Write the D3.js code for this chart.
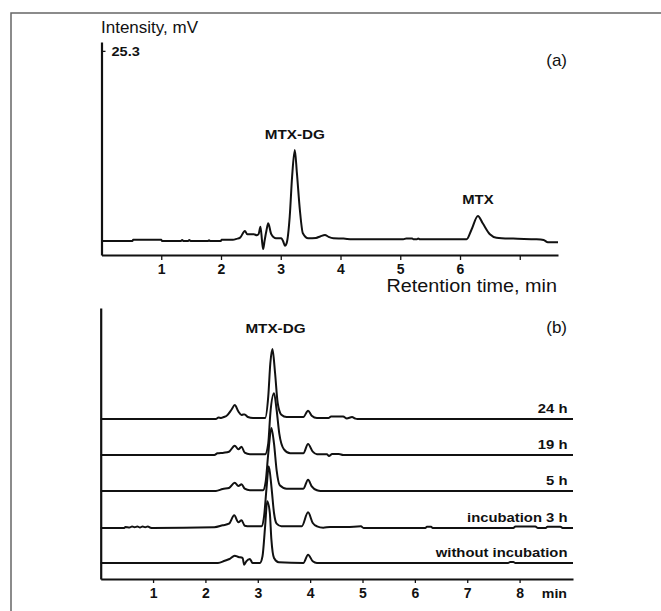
<!DOCTYPE html>
<html><head><meta charset="utf-8">
<script src="https://cdn.jsdelivr.net/npm/d3@7"></script>
<style>
body{margin:0;background:#fff;}
text{font-family:"Liberation Sans",Arial,sans-serif;fill:#111;}
</style></head>
<body><svg id="c" width="661" height="611"></svg>
<script>
// ---------- DATA ----------
// Panel (a): chromatogram, [retention time (min), intensity (mV)]
const traceA = [
 [0,1.74],[0.52,1.74],[0.53,1.9],[1.0,1.9],[1.01,1.74],[1.33,1.74],[1.35,1.85],[1.37,1.74],[1.45,1.74],[1.47,1.85],[1.49,1.74],
 [1.78,1.74],[1.8,1.82],[1.82,1.74],[2.0,1.74],[2.01,1.9],[2.2,1.9],[2.26,2.0],[2.32,2.15],[2.4,2.98],[2.44,2.57],
 [2.55,2.57],[2.6,2.45],[2.63,2.6],[2.66,3.51],[2.69,1.5],[2.705,0.74],[2.73,1.8],[2.76,3.0],[2.79,3.93],[2.84,2.6],
 [2.92,2.07],[3.01,2.07],[3.04,1.7],[3.07,1.15],[3.1,1.5],[3.15,4.75],[3.19,9.71],[3.235,13.02],[3.27,10.17],
 [3.32,5.58],[3.37,2.69],[3.46,2.07],[3.59,2.12],[3.66,2.3],[3.74,2.48],[3.8,2.25],[3.88,2.07],[4.05,2.03],[4.2,1.95],
 [5.05,1.95],[5.1,2.05],[5.2,2.05],[5.22,1.95],[5.28,1.95],[5.3,2.05],[5.33,1.95],[6.11,1.95],[6.19,3.1],[6.3,4.84],
 [6.38,3.93],[6.5,2.57],[6.61,2.15],[6.89,2.03],[7.28,1.95],[7.4,1.85],[7.47,1.58],[7.64,1.58]
];
const ticksA = [1,2,3,4,5,6,7];
const tickLabelsA = ["1","2","3","4","5","6",""];
const yTickA = [25.3];

// Panel (b): stacked chromatograms, [retention time (min), relative signal]
const seriesNames = ["without incubation","incubation 3 h","5 h","19 h","24 h"];
const seriesOffsets = [1.6, 5.1, 8.8, 12.4, 16.0];
const traceWithout = [
 [0,0],[2.24,0],[2.37,0.23],[2.46,0.4],[2.56,0.73],[2.63,0.6],[2.71,0.5],[2.74,-0.17],[2.78,0.17],[2.85,0.4],[2.9,0],
 [3.04,0],[3.09,0.67],[3.14,3.67],[3.18,6.17],[3.23,5.0],[3.26,2.33],[3.31,0.5],[3.4,0.07],[3.87,0],[3.96,0.83],
 [4.05,0.17],[4.13,0],[7.78,0],[7.82,0.1],[7.88,0.1],[7.92,0],[9.02,0]
];
const trace3h = [
 [0,0],[0.45,0],[0.47,0.1],[0.55,0.05],[0.6,0.15],[0.65,0.08],[0.7,0.15],[0.75,0.05],[0.8,0.15],[0.85,0.08],[0.9,0.15],[0.95,0.03],[1.0,0],
 [2.17,0.07],[2.33,0.27],[2.45,0.43],[2.55,1.27],[2.63,0.57],[2.69,0.77],[2.75,0.23],[2.85,0.17],[3.07,0.17],
 [3.12,1.17],[3.17,4.17],[3.21,6.17],[3.26,4.17],[3.31,1.5],[3.36,0.43],[3.45,0.17],[3.84,0.17],[3.96,1.57],
 [4.05,0.5],[4.13,0.17],[4.25,0.03],[4.38,0.1],[4.7,0.1],[4.97,0.17],[5.02,0],[6.2,0],[6.23,0.13],[6.31,0.13],[6.34,0],
 [7.88,0],[7.92,0.15],[8.3,0.15],[8.35,0],[8.5,0],[8.53,0.13],[8.78,0.13],[8.82,0],[9.02,0]
];
const trace5h = [
 [0,0],[2.2,0],[2.33,0.2],[2.45,0.3],[2.56,0.83],[2.63,0.5],[2.69,0.67],[2.75,0.23],[2.85,0.07],[3.1,0.07],
 [3.15,0.9],[3.2,3.73],[3.26,6.3],[3.31,4.73],[3.36,2.07],[3.42,0.57],[3.55,0.23],[3.87,0.23],[3.96,1.13],
 [4.03,0.47],[4.13,0.07],[4.2,0],[9.02,0]
];
const trace19h = [
 [0,0],[2.17,0],[2.23,0.17],[2.35,0.23],[2.45,0.33],[2.56,0.93],[2.63,0.57],[2.69,0.83],[2.75,0.23],[2.85,0.07],
 [3.14,0.07],[3.2,1.17],[3.24,4.17],[3.31,6.17],[3.36,4.5],[3.41,2.17],[3.5,0.57],[3.62,0.17],[3.87,0.17],
 [3.96,1.1],[4.05,0.33],[4.13,0.07],[4.32,0.07],[4.36,-0.1],[4.42,0.1],[4.55,0.1],[4.63,0],[9.02,0]
];
const trace24h = [
 [0,0],[2.2,0],[2.25,0.15],[2.3,0.1],[2.35,0.2],[2.4,0.3],[2.5,0.95],[2.56,1.4],[2.63,0.75],[2.69,0.4],[2.72,0.45],
 [2.75,0.45],[2.81,0.2],[2.91,0.1],[3.14,0.1],[3.2,2.26],[3.24,5.6],[3.28,7.0],[3.33,4.6],[3.38,1.6],[3.45,0.43],
 [3.55,0.2],[3.87,0.2],[3.96,0.83],[4.03,0.33],[4.13,0.1],[4.35,0.1],[4.4,0.25],[4.63,0.25],[4.7,0.05],[4.8,0.2],
 [4.86,0.05],[4.9,0],[9.02,0]
];
const seriesB = [traceWithout, trace3h, trace5h, trace19h, trace24h];
const ticksB = [1,2,3,4,5,6,7,8];

// ---------- DRAW ----------
const svg = d3.select("#c");
const ink = "#111";
const FONT = "Liberation Sans, Arial, sans-serif";

// widen bold labels slightly to match the reference's wider typeface
function widen(sel, f){
  sel.each(function(){
    const w = this.getComputedTextLength();
    if (w>0) d3.select(this).attr("textLength", w*f).attr("lengthAdjust","spacingAndGlyphs");
  });
  return sel;
}

// outer frame (top + left edges)
svg.append("path").attr("d","M11,611V13H661").attr("fill","none").attr("stroke","#666").attr("stroke-width",1.5);

// ===== Panel (a) =====
const xA = d3.scaleLinear().domain([0,7.64]).range([101.5,558]);
const yA = d3.scaleLinear().domain([0,26.4]).range([255,42]);

const gxA = svg.append("g").attr("transform","translate(0,255)")
  .call(d3.axisBottom(xA).tickValues(ticksA).tickFormat((d,i)=>tickLabelsA[i]).tickSize(5).tickSizeOuter(0).tickPadding(4));
const gyA = svg.append("g").attr("transform",`translate(${xA(0)},0)`)
  .call(d3.axisLeft(yA).tickValues(yTickA).tickFormat(d3.format(".1f")).tickSize(-4).tickSizeOuter(0));
[gxA,gyA].forEach(g=>{
  g.select(".domain").attr("stroke",ink).attr("stroke-width",2.2);
  g.selectAll(".tick line").attr("stroke",ink).attr("stroke-width",1.3);
  g.selectAll("text").attr("font-family",FONT).attr("font-size",14).attr("font-weight","bold").attr("fill",ink);
});
gyA.selectAll(".tick text").attr("x",10).attr("text-anchor","start").attr("font-size",13.5);
widen(gyA.selectAll(".tick text"),1.08);

const line = d3.line().curve(d3.curveMonotoneX);
svg.append("path")
  .attr("d", line.x(d=>xA(d[0])).y(d=>yA(d[1]))(traceA))
  .attr("fill","none").attr("stroke",ink).attr("stroke-width",2).attr("stroke-linejoin","round");

svg.append("text").attr("x",101).attr("y",33).attr("font-size",17).text("Intensity, mV");
svg.append("text").attr("x",567).attr("y",66).attr("font-size",17).attr("text-anchor","end").text("(a)");
widen(svg.append("text").attr("x",xA(3.235)).attr("y",138.5).attr("font-size",13.5).attr("font-weight","bold").attr("text-anchor","middle").text("MTX-DG"),1.13);
widen(svg.append("text").attr("x",xA(6.3)).attr("y",204).attr("font-size",13.5).attr("font-weight","bold").attr("text-anchor","middle").text("MTX"),1.1);
widen(svg.append("text").attr("x",557).attr("y",292).attr("font-size",18).attr("text-anchor","end").text("Retention time, min"),1.1);

// ===== Panel (b) =====
const xB = d3.scaleLinear().domain([0,9.02]).range([100.7,573]);
const yB = d3.scaleLinear().domain([0,27.1]).range([579,308]);

const gxB = svg.append("g").attr("transform","translate(0,579)")
  .call(d3.axisBottom(xB).tickValues(ticksB).tickFormat(d3.format("d")).tickSize(4).tickSizeOuter(0).tickPadding(5));
const gyB = svg.append("g").attr("transform",`translate(${xB(0)},0)`)
  .call(d3.axisLeft(yB).tickValues([]).tickSizeOuter(0));
[gxB,gyB].forEach(g=>{
  g.select(".domain").attr("stroke",ink).attr("stroke-width",2.2);
  g.selectAll(".tick line").attr("stroke",ink).attr("stroke-width",1.3);
  g.selectAll("text").attr("font-family",FONT).attr("font-size",14).attr("font-weight","bold").attr("fill",ink);
});
widen(svg.append("text").attr("x",567).attr("y",597.5).attr("font-size",13.5).attr("font-weight","bold").attr("text-anchor","end").text("min"),1.05);

seriesB.forEach((s,i)=>{
  const off = seriesOffsets[i];
  svg.append("path")
    .attr("d", line.x(d=>xB(d[0])).y(d=>yB(d[1]+off))(s))
    .attr("fill","none").attr("stroke",ink).attr("stroke-width",2).attr("stroke-linejoin","round");
  widen(svg.append("text").attr("x",567.5).attr("y",yB(off)-6.3).attr("font-size",13).attr("font-weight","bold")
    .attr("text-anchor","end").text(seriesNames[i]),1.14);
});
widen(svg.append("text").attr("x",275.5).attr("y",332.7).attr("font-size",13.5).attr("font-weight","bold").attr("text-anchor","middle").text("MTX-DG"),1.13);
svg.append("text").attr("x",567).attr("y",333).attr("font-size",17).attr("text-anchor","end").text("(b)");
</script></body></html>
